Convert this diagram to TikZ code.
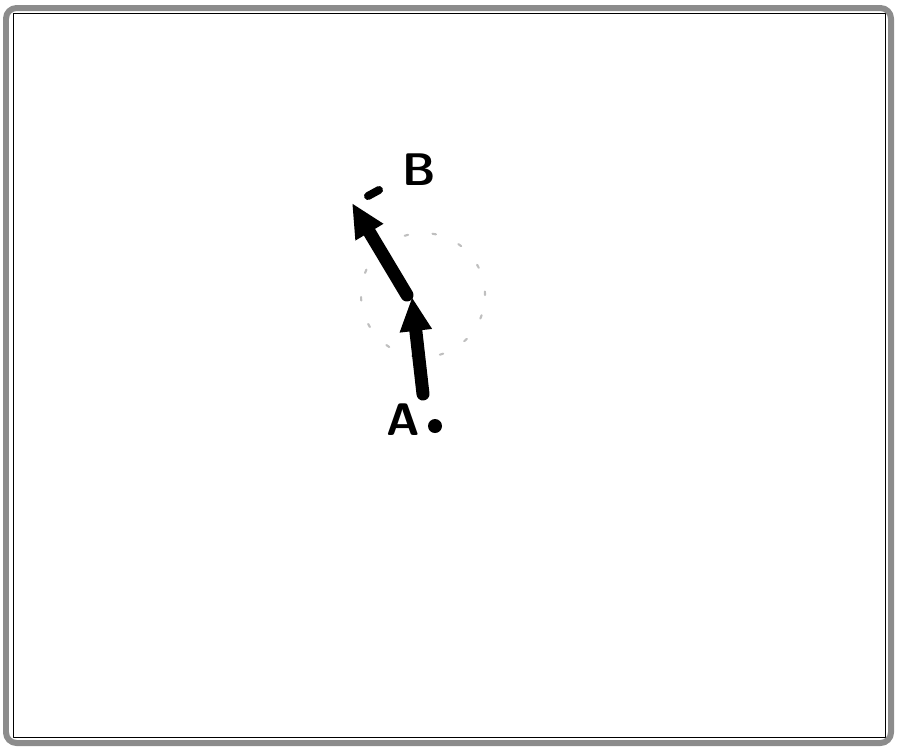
\documentclass[tikz,border=0pt]{standalone}
\usepackage{amsmath}
\usepackage{tikz}
\usetikzlibrary{arrows.meta}
\tikzstyle{pointlabel} = [font=\sffamily\bfseries\fontsize{26}{26}\selectfont, inner sep=0pt]
\tikzset{
  vector/.style ={draw, line width=0.26cm, -{Triangle[length=0.68cm,width=0.6cm]}, shorten >=0pt}
}
\begin{document}
\begin{tikzpicture}[line cap=round,line join=round,x=0.02cm,y=0.02cm]
\useasboundingbox (0,0) rectangle (900,-752);
% frame
\draw[draw=black!45,line width=1.2mm,rounded corners=6] (6,-8) rectangle (891,-743);
\draw[black,line width=0.5pt] (13,-13) rectangle (885,-737);
% faint circle of possible directions
\draw[black!25,dash pattern=on 2pt off 14pt,line width=1.2pt] (423,-295) circle (62);
% points
\node[pointlabel] (B) at (419,-170) {B};
\node[pointlabel] (A) at (403,-420) {A};
\node[circle,fill=black,inner sep=0pt,minimum size=0.28cm] (O) at (435,-426) {};
\coordinate (a0) at (423,-394);
\coordinate (a1) at (412,-297);
\coordinate (a2) at (352,-203);
\draw[vector] (a0) -- (a1);
\draw[vector] ([shift={(-5,2)}]a1) -- (a2);
\draw[line width=1.6mm] (368,-196) -- (379,-190);
\end{tikzpicture}
\end{document}
